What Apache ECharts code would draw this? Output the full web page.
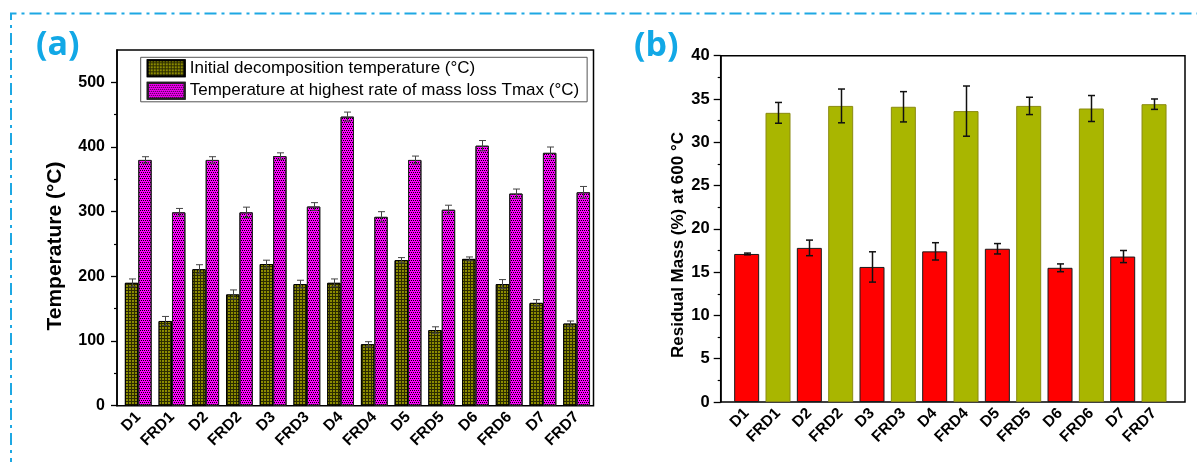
<!DOCTYPE html>
<html>
<head>
<meta charset="utf-8">
<title>Thermal decomposition and residual mass</title>
<script src="https://cdn.jsdelivr.net/npm/echarts@6/dist/echarts.min.js"></script>
<style>
  html, body { margin: 0; padding: 0; background: #fff; }
  #chart { width: 1197px; height: 462px; }
</style>
</head>
<body>
<div id="chart"></div>
<script>
// Sample names shared by both panels
const categories = ['D1', 'FRD1', 'D2', 'FRD2', 'D3', 'FRD3', 'D4', 'FRD4',
                    'D5', 'FRD5', 'D6', 'FRD6', 'D7', 'FRD7'];

// Panel (a): temperatures (°C) and their error half-widths
const initialDecomp    = [190, 131, 211, 172, 219, 188, 190, 95, 225, 117, 227, 188, 159, 127];
const initialDecompErr = [6, 7, 7, 7, 6, 6, 6, 4, 4, 5, 3, 7, 5, 4];
const tmax             = [380, 299, 380, 299, 386, 308, 447, 292, 380, 303, 402, 328, 391, 330];
const tmaxErr          = [5, 6, 5, 8, 5, 6, 7, 8, 6, 7, 8, 7, 9, 9];

// Panel (b): residual mass (%) at 600 °C and error half-widths
const residual    = [17.1, 33.4, 17.8, 34.2, 15.6, 34.1, 17.4, 33.6, 17.7, 34.2, 15.5, 33.9, 16.8, 34.4];
const residualErr = [0.1, 1.2, 0.9, 1.95, 1.75, 1.75, 1.0, 2.9, 0.6, 1.0, 0.45, 1.5, 0.7, 0.6];

// Axis tick values
const tempMajorTicks = [0, 100, 200, 300, 400, 500];
const tempMinorTicks = [50, 150, 250, 350, 450];

const seriesNames = ['Initial decomposition temperature (°C)',
                     'Temperature at highest rate of mass loss Tmax (°C)'];

const FONT = "'Liberation Sans', Arial, Helvetica, sans-serif";
const BAR_A = 13.4;   // width of each bar in panel (a)
const BAR_B = 25;     // width of each bar in panel (b)

function errorBars(offsetPx, capWidth, color, width) {
  return function (params, api) {
    const i = api.value(0), v = api.value(1), e = api.value(2);
    const hi = api.coord([i, v + e]);
    const lo = api.coord([i, v - e]);
    const x = Math.round(hi[0] + offsetPx) + 0.5;
    const style = { stroke: color, lineWidth: width };
    const half = capWidth / 2;
    return {
      type: 'group',
      children: [
        { type: 'line', shape: { x1: x, y1: hi[1], x2: x, y2: lo[1] }, style: style },
        { type: 'line', shape: { x1: x - half, y1: hi[1], x2: x + half, y2: hi[1] }, style: style },
        { type: 'line', shape: { x1: x - half, y1: lo[1], x2: x + half, y2: lo[1] }, style: style }
      ]
    };
  };
}

const withErr = (vals, errs) => vals.map((v, i) => [i, v, errs[i]]);

const yLabelStyle = { color: '#000', fontFamily: FONT, fontWeight: 'bold', fontSize: 16 };
const xLabelStyle = { color: '#000', fontFamily: FONT, fontWeight: 'bold', fontSize: 15.5,
                      rotate: 45, interval: 0 };

const chart = echarts.init(document.getElementById('chart'), null, { renderer: 'canvas' });

chart.setOption({
  animation: false,
  backgroundColor: '#fff',
  textStyle: { fontFamily: FONT },
  grid: [
    // (a) frame and value axis
    { left: 117, top: 50, width: 476.5, height: 355.7, show: true,
      borderColor: '#000', borderWidth: 1.5, backgroundColor: 'transparent' },
    // (a) category band
    { left: 121.4, top: 50, width: 472.1, height: 355.7 },
    // (b) frame and value axis
    { left: 720.7, top: 55.7, width: 464.3, height: 346.3, show: true,
      borderColor: '#000', borderWidth: 1.5, backgroundColor: 'transparent' },
    // (b) category band
    { left: 731, top: 55.7, width: 438.7, height: 346.3 }
  ],
  xAxis: [
    { gridIndex: 0, type: 'value', show: false },
    { gridIndex: 1, type: 'category', data: categories,
      axisLine: { show: false },
      axisTick: { alignWithLabel: true, interval: 0, length: 6,
                  lineStyle: { color: '#000', width: 1.3 } },
      axisLabel: Object.assign({ margin: 9 }, xLabelStyle) },
    { gridIndex: 2, type: 'value', show: false },
    { gridIndex: 3, type: 'category', data: categories,
      axisLine: { show: false },
      axisTick: { alignWithLabel: true, interval: 0, length: 6,
                  lineStyle: { color: '#000', width: 1.3 } },
      axisLabel: Object.assign({ margin: 9 }, xLabelStyle) }
  ],
  yAxis: [
    // (a) labelled axis with major ticks
    { gridIndex: 0, type: 'value', min: 0, max: 550,
      axisLine: { show: true, lineStyle: { color: '#000', width: 1.5 } },
      axisTick: { show: true, length: 6, customValues: tempMajorTicks,
                  lineStyle: { color: '#000', width: 1.3 } },
      axisLabel: Object.assign({ margin: 12, customValues: tempMajorTicks }, yLabelStyle),
      splitLine: { show: false } },
    // (a) minor ticks
    { gridIndex: 0, type: 'value', min: 0, max: 550, position: 'left',
      axisLine: { show: false },
      axisTick: { show: true, length: 3, customValues: tempMinorTicks,
                  lineStyle: { color: '#000', width: 1.2 } },
      axisLabel: { show: false }, splitLine: { show: false } },
    // (a) bar scale
    { gridIndex: 1, type: 'value', min: 0, max: 550, show: false },
    // (b) labelled axis
    { gridIndex: 2, type: 'value', min: 0, max: 40, interval: 5,
      axisLine: { show: true, lineStyle: { color: '#000', width: 1.5 } },
      axisTick: { show: true, length: 7, lineStyle: { color: '#000', width: 1.3 } },
      minorTick: { show: true, splitNumber: 2, length: 3,
                   lineStyle: { color: '#000', width: 1.2 } },
      axisLabel: Object.assign({ margin: 11 }, yLabelStyle, { fontSize: 16.5 }),
      splitLine: { show: false } },
    // (b) bar scale
    { gridIndex: 3, type: 'value', min: 0, max: 40, show: false }
  ],
  legend: {
    data: seriesNames,
    orient: 'vertical',
    left: 140.7, top: 57.3,
    itemWidth: 37, itemHeight: 16, itemGap: 4.5,
    padding: [2, 8, 2, 6],
    backgroundColor: '#fff',
    borderColor: '#555', borderWidth: 1, borderRadius: 0,
    icon: 'rect',
    selectedMode: false,
    textStyle: { fontFamily: FONT, fontSize: 17, color: '#000' }
  },
  graphic: [
    // dash-dot frame around the figure
    { type: 'polyline', silent: true, z: 100,
      shape: { points: [[11, 470], [11, 13.5], [1205, 13.5]] },
      style: { fill: null, stroke: '#1ea8e3', lineWidth: 2, lineDash: [12, 5, 3, 5] } },
    { type: 'text', left: 36, top: 28,
      style: { text: '(a)', fill: '#12a8e6', font: "bold 34px 'Open Sans', sans-serif" } },
    { type: 'text', left: 634, top: 29,
      style: { text: '(b)', fill: '#12a8e6', font: "bold 34px 'Open Sans', sans-serif" } },
    { type: 'text', x: 55, y: 246, rotation: Math.PI / 2,
      style: { text: 'Temperature (°C)', fill: '#000', align: 'center', verticalAlign: 'middle',
               font: "bold 21px 'Liberation Sans', Arial, sans-serif" } },
    { type: 'text', x: 678, y: 245, rotation: Math.PI / 2,
      style: { text: 'Residual Mass (%) at 600 °C', fill: '#000', align: 'center', verticalAlign: 'middle',
               font: "bold 17px 'Liberation Sans', Arial, sans-serif" } }
  ],
  series: [
    { name: seriesNames[0], type: 'bar', xAxisIndex: 1, yAxisIndex: 2,
      data: initialDecomp, barWidth: BAR_A, barGap: '0%',
      itemStyle: { color: '#2c2c00', borderColor: '#000', borderWidth: 1,
        decal: { symbol: 'rect', symbolSize: 1, color: '#8c8c00',
                 dashArrayX: [[2, 1]], dashArrayY: [2, 1] } } },
    { name: seriesNames[1], type: 'bar', xAxisIndex: 1, yAxisIndex: 2,
      data: tmax, barWidth: BAR_A, barGap: '0%',
      itemStyle: { color: '#ff00ff', borderColor: '#222', borderWidth: 1,
        decal: { symbol: 'rect', symbolSize: 1, color: '#000',
                 dashArrayX: [[1, 1], [0, 1, 1, 0]], dashArrayY: [1, 1] } } },
    { name: 'initial-err', type: 'custom', xAxisIndex: 1, yAxisIndex: 2, z: 5,
      data: withErr(initialDecomp, initialDecompErr), encode: { x: 0, y: 1 },
      renderItem: errorBars(-BAR_A / 2, 7, '#444', 1) },
    { name: 'tmax-err', type: 'custom', xAxisIndex: 1, yAxisIndex: 2, z: 5,
      data: withErr(tmax, tmaxErr), encode: { x: 0, y: 1 },
      renderItem: errorBars(BAR_A / 2, 7, '#444', 1) },
    { name: 'residual', type: 'bar', xAxisIndex: 3, yAxisIndex: 4,
      barWidth: BAR_B,
      data: residual.map((v, i) => ({
        value: v,
        itemStyle: categories[i].startsWith('FRD')
          ? { color: '#a9b600', borderColor: '#8a8a10', borderWidth: 1 }
          : { color: '#ff0000', borderColor: '#1a1a1a', borderWidth: 1 }
      })) },
    { name: 'residual-err', type: 'custom', xAxisIndex: 3, yAxisIndex: 4, z: 5,
      data: withErr(residual, residualErr), encode: { x: 0, y: 1 },
      renderItem: errorBars(0, 7, '#111', 1.5) }
  ]
});
</script>
</body>
</html>
